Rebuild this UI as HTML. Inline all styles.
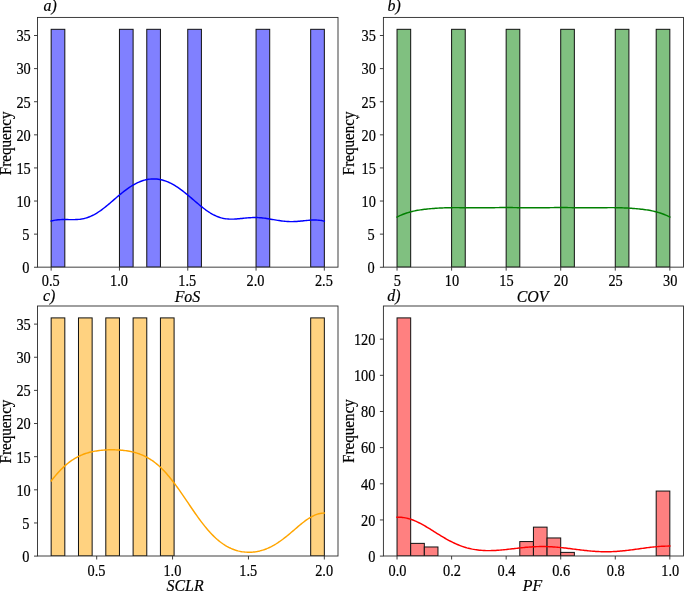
<!DOCTYPE html>
<html lang="en"><head><meta charset="utf-8"><title>Histograms</title>
<style>html,body{margin:0;padding:0;background:#fff}svg{display:block}text{stroke:#000;stroke-width:.18px}</style></head>
<body>
<svg width="685" height="592" viewBox="0 0 685 592" font-family="'Liberation Serif', 'Times New Roman', serif" font-size="15" fill="#000">
<rect width="685" height="592" fill="#fff"/>
<g>
<clipPath id="clipa"><rect x="37.5" y="17.42" width="300.50" height="249.73"/></clipPath>
<g clip-path="url(#clipa)">
<rect x="51.16" y="29.31" width="13.66" height="237.84" fill="#8080ff" stroke="#111" stroke-width="1"/>
<rect x="119.45" y="29.31" width="13.66" height="237.84" fill="#8080ff" stroke="#111" stroke-width="1"/>
<rect x="146.77" y="29.31" width="13.66" height="237.84" fill="#8080ff" stroke="#111" stroke-width="1"/>
<rect x="187.75" y="29.31" width="13.66" height="237.84" fill="#8080ff" stroke="#111" stroke-width="1"/>
<rect x="256.05" y="29.31" width="13.66" height="237.84" fill="#8080ff" stroke="#111" stroke-width="1"/>
<rect x="310.68" y="29.31" width="13.66" height="237.84" fill="#8080ff" stroke="#111" stroke-width="1"/>
<polyline points="51.16,221.02 52.53,220.67 53.90,220.38 55.28,220.14 56.65,219.95 58.02,219.79 59.40,219.68 60.77,219.61 62.14,219.56 63.51,219.54 64.89,219.54 66.26,219.55 67.63,219.57 69.01,219.60 70.38,219.62 71.75,219.63 73.12,219.62 74.50,219.60 75.87,219.55 77.24,219.47 78.61,219.35 79.99,219.20 81.36,219.00 82.73,218.75 84.11,218.45 85.48,218.10 86.85,217.70 88.22,217.23 89.60,216.72 90.97,216.14 92.34,215.50 93.72,214.81 95.09,214.06 96.46,213.26 97.83,212.41 99.21,211.50 100.58,210.56 101.95,209.56 103.32,208.53 104.70,207.47 106.07,206.37 107.44,205.25 108.82,204.11 110.19,202.94 111.56,201.77 112.93,200.59 114.31,199.40 115.68,198.22 117.05,197.05 118.42,195.88 119.80,194.73 121.17,193.60 122.54,192.49 123.92,191.41 125.29,190.36 126.66,189.34 128.03,188.36 129.41,187.41 130.78,186.51 132.15,185.65 133.53,184.84 134.90,184.07 136.27,183.36 137.64,182.69 139.02,182.08 140.39,181.52 141.76,181.01 143.13,180.56 144.51,180.16 145.88,179.81 147.25,179.52 148.63,179.29 150.00,179.12 151.37,179.00 152.74,178.93 154.12,178.92 155.49,178.97 156.86,179.08 158.24,179.24 159.61,179.46 160.98,179.74 162.35,180.07 163.73,180.45 165.10,180.89 166.47,181.39 167.84,181.93 169.22,182.53 170.59,183.19 171.96,183.89 173.34,184.64 174.71,185.44 176.08,186.29 177.45,187.18 178.83,188.12 180.20,189.09 181.57,190.10 182.95,191.14 184.32,192.22 185.69,193.32 187.06,194.44 188.44,195.59 189.81,196.75 191.18,197.92 192.55,199.10 193.93,200.29 195.30,201.47 196.67,202.64 198.05,203.81 199.42,204.96 200.79,206.08 202.16,207.18 203.54,208.25 204.91,209.29 206.28,210.29 207.66,211.24 209.03,212.15 210.40,213.01 211.77,213.82 213.15,214.57 214.52,215.27 215.89,215.91 217.26,216.49 218.64,217.01 220.01,217.47 221.38,217.87 222.76,218.21 224.13,218.49 225.50,218.72 226.87,218.90 228.25,219.02 229.62,219.11 230.99,219.14 232.37,219.14 233.74,219.11 235.11,219.04 236.48,218.95 237.86,218.84 239.23,218.72 240.60,218.58 241.97,218.44 243.35,218.29 244.72,218.15 246.09,218.02 247.47,217.90 248.84,217.79 250.21,217.70 251.58,217.63 252.96,217.58 254.33,217.56 255.70,217.56 257.08,217.59 258.45,217.65 259.82,217.73 261.19,217.84 262.57,217.97 263.94,218.13 265.31,218.31 266.68,218.50 268.06,218.72 269.43,218.94 270.80,219.18 272.18,219.42 273.55,219.66 274.92,219.90 276.29,220.14 277.67,220.37 279.04,220.58 280.41,220.79 281.78,220.97 283.16,221.14 284.53,221.28 285.90,221.40 287.28,221.49 288.65,221.56 290.02,221.60 291.39,221.61 292.77,221.60 294.14,221.56 295.51,221.50 296.89,221.41 298.26,221.31 299.63,221.19 301.00,221.06 302.38,220.92 303.75,220.78 305.12,220.64 306.49,220.50 307.87,220.37 309.24,220.25 310.61,220.15 311.99,220.08 313.36,220.03 314.73,220.02 316.10,220.04 317.48,220.11 318.85,220.21 320.22,220.37 321.60,220.58 322.97,220.85 324.34,221.17" fill="none" stroke="#0000ff" stroke-width="1.45" stroke-linejoin="round" stroke-linecap="square"/>
</g>
<rect x="37.5" y="17.42" width="300.50" height="249.73" fill="none" stroke="#2a2a2a" stroke-width="0.9"/>
<path d="M51.16 267.15v3.5M119.45 267.15v3.5M187.75 267.15v3.5M256.05 267.15v3.5M324.34 267.15v3.5M37.5 267.25h-3.5M37.5 234.14h-3.5M37.5 201.04h-3.5M37.5 167.93h-3.5M37.5 134.83h-3.5M37.5 101.72h-3.5M37.5 68.62h-3.5M37.5 35.51h-3.5" stroke="#2a2a2a" stroke-width="0.9" fill="none"/>
<text transform="translate(50.66 286.15) scale(0.955 1.12)" text-anchor="middle">0.5</text>
<text transform="translate(118.95 286.15) scale(0.955 1.12)" text-anchor="middle">1.0</text>
<text transform="translate(187.25 286.15) scale(0.955 1.12)" text-anchor="middle">1.5</text>
<text transform="translate(255.55 286.15) scale(0.955 1.12)" text-anchor="middle">2.0</text>
<text transform="translate(323.84 286.15) scale(0.955 1.12)" text-anchor="middle">2.5</text>
<text transform="translate(29.50 273.10) scale(0.955 1.12)" text-anchor="end">0</text>
<text transform="translate(29.50 239.99) scale(0.955 1.12)" text-anchor="end">5</text>
<text transform="translate(30.70 206.89) scale(0.955 1.12)" text-anchor="end">10</text>
<text transform="translate(30.70 173.78) scale(0.955 1.12)" text-anchor="end">15</text>
<text transform="translate(30.70 140.68) scale(0.955 1.12)" text-anchor="end">20</text>
<text transform="translate(30.70 107.57) scale(0.955 1.12)" text-anchor="end">25</text>
<text transform="translate(30.70 74.47) scale(0.955 1.12)" text-anchor="end">30</text>
<text transform="translate(30.70 41.36) scale(0.955 1.12)" text-anchor="end">35</text>
<text x="187.45" y="301.75" text-anchor="middle" font-style="italic" font-size="15.9">FoS</text>
<text x="43.50" y="11.20" font-style="italic" font-size="15.9">a)</text>
<text transform="translate(11.10 143.28) rotate(-90) scale(1 1.04)" text-anchor="middle" font-size="15.15">Frequency</text>
</g>
<g>
<clipPath id="clipb"><rect x="383.4" y="17.42" width="300.07" height="249.73"/></clipPath>
<g clip-path="url(#clipb)">
<rect x="397.04" y="29.31" width="13.64" height="237.84" fill="#80c080" stroke="#111" stroke-width="1"/>
<rect x="451.60" y="29.31" width="13.64" height="237.84" fill="#80c080" stroke="#111" stroke-width="1"/>
<rect x="506.16" y="29.31" width="13.64" height="237.84" fill="#80c080" stroke="#111" stroke-width="1"/>
<rect x="560.71" y="29.31" width="13.64" height="237.84" fill="#80c080" stroke="#111" stroke-width="1"/>
<rect x="615.27" y="29.31" width="13.64" height="237.84" fill="#80c080" stroke="#111" stroke-width="1"/>
<rect x="656.19" y="29.31" width="13.64" height="237.84" fill="#80c080" stroke="#111" stroke-width="1"/>
<polyline points="397.04,217.05 398.41,216.36 399.78,215.71 401.15,215.10 402.52,214.53 403.89,213.99 405.26,213.49 406.64,213.02 408.01,212.59 409.38,212.19 410.75,211.81 412.12,211.47 413.49,211.15 414.86,210.85 416.23,210.58 417.60,210.33 418.97,210.09 420.34,209.88 421.71,209.68 423.08,209.49 424.46,209.32 425.83,209.16 427.20,209.01 428.57,208.88 429.94,208.75 431.31,208.63 432.68,208.51 434.05,208.41 435.42,208.31 436.79,208.22 438.16,208.14 439.53,208.06 440.91,207.99 442.28,207.93 443.65,207.87 445.02,207.82 446.39,207.77 447.76,207.74 449.13,207.71 450.50,207.68 451.87,207.66 453.24,207.65 454.61,207.64 455.98,207.64 457.36,207.64 458.73,207.65 460.10,207.66 461.47,207.67 462.84,207.68 464.21,207.70 465.58,207.72 466.95,207.74 468.32,207.76 469.69,207.77 471.06,207.79 472.43,207.80 473.80,207.82 475.18,207.83 476.55,207.83 477.92,207.84 479.29,207.84 480.66,207.83 482.03,207.83 483.40,207.82 484.77,207.80 486.14,207.79 487.51,207.77 488.88,207.75 490.25,207.73 491.63,207.71 493.00,207.68 494.37,207.66 495.74,207.64 497.11,207.62 498.48,207.60 499.85,207.59 501.22,207.57 502.59,207.56 503.96,207.55 505.33,207.55 506.70,207.55 508.08,207.55 509.45,207.56 510.82,207.57 512.19,207.58 513.56,207.60 514.93,207.62 516.30,207.64 517.67,207.66 519.04,207.68 520.41,207.70 521.78,207.72 523.15,207.74 524.52,207.76 525.90,207.78 527.27,207.80 528.64,207.81 530.01,207.82 531.38,207.83 532.75,207.83 534.12,207.83 535.49,207.83 536.86,207.82 538.23,207.81 539.60,207.80 540.97,207.78 542.35,207.76 543.72,207.74 545.09,207.72 546.46,207.70 547.83,207.68 549.20,207.66 550.57,207.64 551.94,207.62 553.31,207.60 554.68,207.58 556.05,207.57 557.42,207.56 558.79,207.55 560.17,207.55 561.54,207.55 562.91,207.55 564.28,207.56 565.65,207.57 567.02,207.59 568.39,207.60 569.76,207.62 571.13,207.64 572.50,207.66 573.87,207.68 575.24,207.71 576.62,207.73 577.99,207.75 579.36,207.77 580.73,207.79 582.10,207.80 583.47,207.82 584.84,207.83 586.21,207.83 587.58,207.84 588.95,207.84 590.32,207.83 591.69,207.83 593.07,207.82 594.44,207.80 595.81,207.79 597.18,207.77 598.55,207.76 599.92,207.74 601.29,207.72 602.66,207.70 604.03,207.68 605.40,207.67 606.77,207.66 608.14,207.65 609.51,207.64 610.89,207.64 612.26,207.64 613.63,207.65 615.00,207.66 616.37,207.68 617.74,207.71 619.11,207.74 620.48,207.77 621.85,207.82 623.22,207.87 624.59,207.93 625.96,207.99 627.34,208.06 628.71,208.14 630.08,208.22 631.45,208.31 632.82,208.41 634.19,208.51 635.56,208.63 636.93,208.75 638.30,208.88 639.67,209.01 641.04,209.16 642.41,209.32 643.79,209.49 645.16,209.68 646.53,209.88 647.90,210.09 649.27,210.33 650.64,210.58 652.01,210.85 653.38,211.15 654.75,211.47 656.12,211.81 657.49,212.19 658.86,212.59 660.23,213.02 661.61,213.49 662.98,213.99 664.35,214.53 665.72,215.10 667.09,215.71 668.46,216.36 669.83,217.05" fill="none" stroke="#008000" stroke-width="1.45" stroke-linejoin="round" stroke-linecap="square"/>
</g>
<rect x="383.4" y="17.42" width="300.07" height="249.73" fill="none" stroke="#2a2a2a" stroke-width="0.9"/>
<path d="M397.04 267.15v3.5M451.60 267.15v3.5M506.16 267.15v3.5M560.71 267.15v3.5M615.27 267.15v3.5M669.83 267.15v3.5M383.4 267.25h-3.5M383.4 234.14h-3.5M383.4 201.04h-3.5M383.4 167.93h-3.5M383.4 134.83h-3.5M383.4 101.72h-3.5M383.4 68.62h-3.5M383.4 35.51h-3.5" stroke="#2a2a2a" stroke-width="0.9" fill="none"/>
<text transform="translate(397.34 286.15) scale(0.955 1.12)" text-anchor="middle">5</text>
<text transform="translate(451.90 286.15) scale(0.955 1.12)" text-anchor="middle">10</text>
<text transform="translate(506.46 286.15) scale(0.955 1.12)" text-anchor="middle">15</text>
<text transform="translate(561.01 286.15) scale(0.955 1.12)" text-anchor="middle">20</text>
<text transform="translate(615.57 286.15) scale(0.955 1.12)" text-anchor="middle">25</text>
<text transform="translate(670.13 286.15) scale(0.955 1.12)" text-anchor="middle">30</text>
<text transform="translate(374.70 273.10) scale(0.955 1.12)" text-anchor="end">0</text>
<text transform="translate(374.70 239.99) scale(0.955 1.12)" text-anchor="end">5</text>
<text transform="translate(375.90 206.89) scale(0.955 1.12)" text-anchor="end">10</text>
<text transform="translate(375.90 173.78) scale(0.955 1.12)" text-anchor="end">15</text>
<text transform="translate(375.90 140.68) scale(0.955 1.12)" text-anchor="end">20</text>
<text transform="translate(375.90 107.57) scale(0.955 1.12)" text-anchor="end">25</text>
<text transform="translate(375.90 74.47) scale(0.955 1.12)" text-anchor="end">30</text>
<text transform="translate(375.90 41.36) scale(0.955 1.12)" text-anchor="end">35</text>
<text x="532.53" y="301.75" text-anchor="middle" font-style="italic" font-size="15.9">COV</text>
<text x="387.60" y="11.20" font-style="italic" font-size="15.9">b)</text>
<text transform="translate(354.10 143.28) rotate(-90) scale(1 1.04)" text-anchor="middle" font-size="15.15">Frequency</text>
</g>
<g>
<clipPath id="clipc"><rect x="37.5" y="306.0" width="300.50" height="250.00"/></clipPath>
<g clip-path="url(#clipc)">
<rect x="51.16" y="317.90" width="13.66" height="238.10" fill="#ffd280" stroke="#111" stroke-width="1"/>
<rect x="78.48" y="317.90" width="13.66" height="238.10" fill="#ffd280" stroke="#111" stroke-width="1"/>
<rect x="105.80" y="317.90" width="13.66" height="238.10" fill="#ffd280" stroke="#111" stroke-width="1"/>
<rect x="133.11" y="317.90" width="13.66" height="238.10" fill="#ffd280" stroke="#111" stroke-width="1"/>
<rect x="160.43" y="317.90" width="13.66" height="238.10" fill="#ffd280" stroke="#111" stroke-width="1"/>
<rect x="310.68" y="317.90" width="13.66" height="238.10" fill="#ffd280" stroke="#111" stroke-width="1"/>
<polyline points="51.16,480.96 52.53,479.22 53.90,477.52 55.28,475.87 56.65,474.27 58.02,472.73 59.40,471.24 60.77,469.80 62.14,468.43 63.51,467.11 64.89,465.85 66.26,464.65 67.63,463.51 69.01,462.43 70.38,461.40 71.75,460.43 73.12,459.51 74.50,458.65 75.87,457.85 77.24,457.09 78.61,456.39 79.99,455.73 81.36,455.12 82.73,454.55 84.11,454.03 85.48,453.54 86.85,453.10 88.22,452.69 89.60,452.32 90.97,451.98 92.34,451.67 93.72,451.39 95.09,451.14 96.46,450.91 97.83,450.71 99.21,450.53 100.58,450.37 101.95,450.24 103.32,450.12 104.70,450.03 106.07,449.95 107.44,449.89 108.82,449.84 110.19,449.81 111.56,449.80 112.93,449.81 114.31,449.83 115.68,449.86 117.05,449.92 118.42,449.99 119.80,450.08 121.17,450.18 122.54,450.31 123.92,450.46 125.29,450.63 126.66,450.82 128.03,451.03 129.41,451.27 130.78,451.54 132.15,451.84 133.53,452.16 134.90,452.52 136.27,452.91 137.64,453.34 139.02,453.81 140.39,454.31 141.76,454.86 143.13,455.45 144.51,456.09 145.88,456.77 147.25,457.51 148.63,458.29 150.00,459.13 151.37,460.02 152.74,460.96 154.12,461.96 155.49,463.02 156.86,464.14 158.24,465.31 159.61,466.54 160.98,467.84 162.35,469.19 163.73,470.59 165.10,472.06 166.47,473.58 167.84,475.15 169.22,476.78 170.59,478.46 171.96,480.18 173.34,481.95 174.71,483.77 176.08,485.62 177.45,487.51 178.83,489.43 180.20,491.38 181.57,493.36 182.95,495.35 184.32,497.36 185.69,499.38 187.06,501.41 188.44,503.44 189.81,505.47 191.18,507.49 192.55,509.50 193.93,511.50 195.30,513.47 196.67,515.42 198.05,517.34 199.42,519.23 200.79,521.08 202.16,522.89 203.54,524.66 204.91,526.38 206.28,528.06 207.66,529.68 209.03,531.25 210.40,532.77 211.77,534.22 213.15,535.62 214.52,536.96 215.89,538.25 217.26,539.47 218.64,540.63 220.01,541.73 221.38,542.77 222.76,543.75 224.13,544.67 225.50,545.53 226.87,546.34 228.25,547.08 229.62,547.78 230.99,548.42 232.37,549.00 233.74,549.53 235.11,550.01 236.48,550.44 237.86,550.83 239.23,551.16 240.60,551.45 241.97,551.69 243.35,551.89 244.72,552.04 246.09,552.15 247.47,552.22 248.84,552.24 250.21,552.22 251.58,552.16 252.96,552.06 254.33,551.92 255.70,551.73 257.08,551.50 258.45,551.23 259.82,550.92 261.19,550.56 262.57,550.16 263.94,549.72 265.31,549.23 266.68,548.70 268.06,548.12 269.43,547.50 270.80,546.84 272.18,546.13 273.55,545.38 274.92,544.58 276.29,543.75 277.67,542.87 279.04,541.95 280.41,541.00 281.78,540.01 283.16,538.98 284.53,537.93 285.90,536.84 287.28,535.73 288.65,534.60 290.02,533.45 291.39,532.28 292.77,531.11 294.14,529.93 295.51,528.75 296.89,527.58 298.26,526.41 299.63,525.26 301.00,524.13 302.38,523.03 303.75,521.96 305.12,520.93 306.49,519.94 307.87,518.99 309.24,518.11 310.61,517.28 311.99,516.51 313.36,515.81 314.73,515.19 316.10,514.63 317.48,514.16 318.85,513.77 320.22,513.47 321.60,513.25 322.97,513.11 324.34,513.07" fill="none" stroke="#ffa500" stroke-width="1.45" stroke-linejoin="round" stroke-linecap="square"/>
</g>
<rect x="37.5" y="306.0" width="300.50" height="250.00" fill="none" stroke="#2a2a2a" stroke-width="0.9"/>
<path d="M96.69 556.0v3.5M172.57 556.0v3.5M248.46 556.0v3.5M324.34 556.0v3.5M37.5 556.10h-3.5M37.5 522.96h-3.5M37.5 489.82h-3.5M37.5 456.68h-3.5M37.5 423.53h-3.5M37.5 390.39h-3.5M37.5 357.25h-3.5M37.5 324.11h-3.5" stroke="#2a2a2a" stroke-width="0.9" fill="none"/>
<text transform="translate(96.49 575.50) scale(0.955 1.12)" text-anchor="middle">0.5</text>
<text transform="translate(172.37 575.50) scale(0.955 1.12)" text-anchor="middle">1.0</text>
<text transform="translate(248.26 575.50) scale(0.955 1.12)" text-anchor="middle">1.5</text>
<text transform="translate(324.14 575.50) scale(0.955 1.12)" text-anchor="middle">2.0</text>
<text transform="translate(29.50 561.95) scale(0.955 1.12)" text-anchor="end">0</text>
<text transform="translate(29.50 528.81) scale(0.955 1.12)" text-anchor="end">5</text>
<text transform="translate(30.70 495.67) scale(0.955 1.12)" text-anchor="end">10</text>
<text transform="translate(30.70 462.53) scale(0.955 1.12)" text-anchor="end">15</text>
<text transform="translate(30.70 429.38) scale(0.955 1.12)" text-anchor="end">20</text>
<text transform="translate(30.70 396.24) scale(0.955 1.12)" text-anchor="end">25</text>
<text transform="translate(30.70 363.10) scale(0.955 1.12)" text-anchor="end">30</text>
<text transform="translate(30.70 329.96) scale(0.955 1.12)" text-anchor="end">35</text>
<text x="185.05" y="591.40" text-anchor="middle" font-style="italic" font-size="15.9">SCLR</text>
<text x="42.90" y="300.80" font-style="italic" font-size="15.9">c)</text>
<text transform="translate(11.10 431.50) rotate(-90) scale(1 1.04)" text-anchor="middle" font-size="15.15">Frequency</text>
</g>
<g>
<clipPath id="clipd"><rect x="383.4" y="306.0" width="300.07" height="250.00"/></clipPath>
<g clip-path="url(#clipd)">
<rect x="397.04" y="317.90" width="13.64" height="238.10" fill="#ff8080" stroke="#111" stroke-width="1"/>
<rect x="410.68" y="543.37" width="13.64" height="12.63" fill="#ff8080" stroke="#111" stroke-width="1"/>
<rect x="424.32" y="546.98" width="13.64" height="9.02" fill="#ff8080" stroke="#111" stroke-width="1"/>
<rect x="519.80" y="541.57" width="13.64" height="14.43" fill="#ff8080" stroke="#111" stroke-width="1"/>
<rect x="533.43" y="527.14" width="13.64" height="28.86" fill="#ff8080" stroke="#111" stroke-width="1"/>
<rect x="547.07" y="537.96" width="13.64" height="18.04" fill="#ff8080" stroke="#111" stroke-width="1"/>
<rect x="560.71" y="552.39" width="13.64" height="3.61" fill="#ff8080" stroke="#111" stroke-width="1"/>
<rect x="656.19" y="491.06" width="13.64" height="64.94" fill="#ff8080" stroke="#111" stroke-width="1"/>
<polyline points="397.04,517.26 398.41,517.22 399.78,517.24 401.15,517.30 402.52,517.43 403.89,517.61 405.26,517.84 406.64,518.12 408.01,518.45 409.38,518.83 410.75,519.26 412.12,519.74 413.49,520.26 414.86,520.82 416.23,521.42 417.60,522.06 418.97,522.73 420.34,523.43 421.71,524.16 423.08,524.92 424.46,525.70 425.83,526.50 427.20,527.31 428.57,528.15 429.94,528.99 431.31,529.84 432.68,530.70 434.05,531.56 435.42,532.42 436.79,533.28 438.16,534.13 439.53,534.98 440.91,535.82 442.28,536.64 443.65,537.46 445.02,538.25 446.39,539.03 447.76,539.79 449.13,540.53 450.50,541.25 451.87,541.94 453.24,542.61 454.61,543.26 455.98,543.88 457.36,544.47 458.73,545.04 460.10,545.57 461.47,546.08 462.84,546.56 464.21,547.02 465.58,547.44 466.95,547.84 468.32,548.20 469.69,548.54 471.06,548.85 472.43,549.14 473.80,549.39 475.18,549.62 476.55,549.83 477.92,550.01 479.29,550.16 480.66,550.29 482.03,550.40 483.40,550.49 484.77,550.55 486.14,550.60 487.51,550.62 488.88,550.63 490.25,550.62 491.63,550.59 493.00,550.54 494.37,550.49 495.74,550.41 497.11,550.33 498.48,550.23 499.85,550.12 501.22,550.00 502.59,549.88 503.96,549.74 505.33,549.60 506.70,549.45 508.08,549.30 509.45,549.14 510.82,548.99 512.19,548.83 513.56,548.67 514.93,548.50 516.30,548.35 517.67,548.19 519.04,548.03 520.41,547.88 521.78,547.74 523.15,547.60 524.52,547.46 525.90,547.34 527.27,547.22 528.64,547.10 530.01,547.00 531.38,546.91 532.75,546.83 534.12,546.75 535.49,546.69 536.86,546.64 538.23,546.60 539.60,546.57 540.97,546.55 542.35,546.55 543.72,546.55 545.09,546.57 546.46,546.60 547.83,546.64 549.20,546.70 550.57,546.76 551.94,546.84 553.31,546.92 554.68,547.02 556.05,547.12 557.42,547.24 558.79,547.36 560.17,547.49 561.54,547.63 562.91,547.78 564.28,547.93 565.65,548.08 567.02,548.25 568.39,548.41 569.76,548.58 571.13,548.75 572.50,548.93 573.87,549.10 575.24,549.28 576.62,549.45 577.99,549.62 579.36,549.79 580.73,549.96 582.10,550.12 583.47,550.28 584.84,550.44 586.21,550.58 587.58,550.73 588.95,550.86 590.32,550.99 591.69,551.11 593.07,551.22 594.44,551.32 595.81,551.41 597.18,551.49 598.55,551.56 599.92,551.62 601.29,551.66 602.66,551.70 604.03,551.72 605.40,551.74 606.77,551.74 608.14,551.72 609.51,551.70 610.89,551.67 612.26,551.62 613.63,551.56 615.00,551.49 616.37,551.41 617.74,551.31 619.11,551.21 620.48,551.09 621.85,550.97 623.22,550.84 624.59,550.69 625.96,550.54 627.34,550.39 628.71,550.22 630.08,550.05 631.45,549.87 632.82,549.69 634.19,549.51 635.56,549.32 636.93,549.13 638.30,548.94 639.67,548.74 641.04,548.55 642.41,548.36 643.79,548.17 645.16,547.99 646.53,547.80 647.90,547.63 649.27,547.46 650.64,547.29 652.01,547.14 653.38,546.99 654.75,546.85 656.12,546.72 657.49,546.60 658.86,546.49 660.23,546.40 661.61,546.31 662.98,546.24 664.35,546.19 665.72,546.14 667.09,546.11 668.46,546.09 669.83,546.09" fill="none" stroke="#ff0000" stroke-width="1.45" stroke-linejoin="round" stroke-linecap="square"/>
</g>
<rect x="383.4" y="306.0" width="300.07" height="250.00" fill="none" stroke="#2a2a2a" stroke-width="0.9"/>
<path d="M397.04 556.0v3.5M451.60 556.0v3.5M506.16 556.0v3.5M560.71 556.0v3.5M615.27 556.0v3.5M669.83 556.0v3.5M383.4 556.10h-3.5M383.4 519.95h-3.5M383.4 483.79h-3.5M383.4 447.64h-3.5M383.4 411.48h-3.5M383.4 375.33h-3.5M383.4 339.17h-3.5" stroke="#2a2a2a" stroke-width="0.9" fill="none"/>
<text transform="translate(397.44 575.50) scale(0.955 1.12)" text-anchor="middle">0.0</text>
<text transform="translate(452.00 575.50) scale(0.955 1.12)" text-anchor="middle">0.2</text>
<text transform="translate(506.56 575.50) scale(0.955 1.12)" text-anchor="middle">0.4</text>
<text transform="translate(561.11 575.50) scale(0.955 1.12)" text-anchor="middle">0.6</text>
<text transform="translate(615.67 575.50) scale(0.955 1.12)" text-anchor="middle">0.8</text>
<text transform="translate(670.23 575.50) scale(0.955 1.12)" text-anchor="middle">1.0</text>
<text transform="translate(375.40 561.95) scale(0.955 1.12)" text-anchor="end">0</text>
<text transform="translate(375.40 525.80) scale(0.955 1.12)" text-anchor="end">20</text>
<text transform="translate(375.40 489.64) scale(0.955 1.12)" text-anchor="end">40</text>
<text transform="translate(375.40 453.49) scale(0.955 1.12)" text-anchor="end">60</text>
<text transform="translate(375.40 417.33) scale(0.955 1.12)" text-anchor="end">80</text>
<text transform="translate(375.40 381.18) scale(0.955 1.12)" text-anchor="end">100</text>
<text transform="translate(375.40 345.02) scale(0.955 1.12)" text-anchor="end">120</text>
<text x="532.43" y="591.20" text-anchor="middle" font-style="italic" font-size="15.9">PF</text>
<text x="387.20" y="300.80" font-style="italic" font-size="15.9">d)</text>
<text transform="translate(354.10 431.00) rotate(-90) scale(1 1.04)" text-anchor="middle" font-size="15.15">Frequency</text>
</g>
<path d="M357.5 115.1l.9.5-.3.6-.9-.5zM358.1 116.4l1.5.6-.4 1.1-1.5-.7z" fill="#1a1a1a"/>
</svg>
</body></html>
